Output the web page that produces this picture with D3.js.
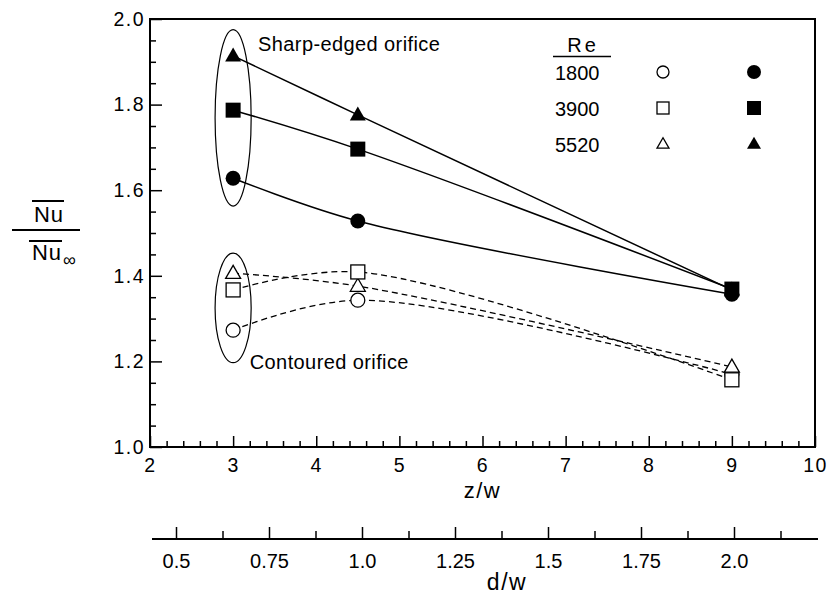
<!DOCTYPE html>
<html>
<head>
<meta charset="utf-8">
<script src="https://cdn.jsdelivr.net/npm/d3@7"></script>
<style>
  body { margin: 0; background: #fff; }
  svg text { font-family: "Liberation Sans", Arial, Helvetica, sans-serif; fill: #000; }
</style>
</head>
<body>
<div id="chart"></div>
<script>
// --- data ---
var zw = [3, 4.5, 9];
var reLabels = ["1800", "3900", "5520"];
var shapes = ["circle", "square", "triangle"];
// sharp-edged orifice (filled symbols), one row per Re
var sharpNu = [
  [1.628, 1.528, 1.357],
  [1.787, 1.696, 1.369],
  [1.914, 1.776, 1.367]
];
// contoured orifice (open symbols)
var contNu = [
  [1.273, 1.343, 1.170],
  [1.367, 1.409, 1.157],
  [1.406, 1.376, 1.187]
];
var zMajor = [2, 3, 4, 5, 6, 7, 8, 9, 10];
var yMajor = [1.0, 1.2, 1.4, 1.6, 1.8, 2.0];
var dwMajor = [0.5, 0.75, 1.0, 1.25, 1.5, 1.75, 2.0];
var dwLabels = ["0.5", "0.75", "1.0", "1.25", "1.5", "1.75", "2.0"];
var dwMinor = [0.625, 0.875, 1.125, 1.375, 1.625, 1.875, 2.125];

var W = 829, H = 596;
var margin = { top: 19, right: 14, bottom: 149, left: 150 };

var svg = d3.select("#chart").append("svg")
  .attr("width", W).attr("height", H);

var x = d3.scaleLinear().domain([2, 10]).range([margin.left, W - margin.right]);
var y = d3.scaleLinear().domain([1, 2]).range([H - margin.bottom, margin.top]);
var dw = d3.scaleLinear().domain([0.5, 2.0]).range([176, 734]);

var zMinor = d3.range(2.2, 10, 0.2).filter(function(v) { return Math.abs(v - Math.round(v)) > 0.01; });
var yMinor = d3.range(1.05, 2, 0.05).filter(function(v) { return Math.abs(v * 5 - Math.round(v * 5)) > 0.01; });

// frame
svg.append("rect")
  .attr("x", x(2)).attr("y", y(2))
  .attr("width", x(10) - x(2)).attr("height", y(1) - y(2))
  .attr("fill", "none").attr("stroke", "#000").attr("stroke-width", 2);

// bottom axis (z/w)
svg.append("g")
  .attr("transform", "translate(0," + y(1) + ")")
  .call(d3.axisBottom(x).tickValues(zMajor).tickSize(-11).tickPadding(11).tickFormat(d3.format("d")));
svg.append("g")
  .attr("transform", "translate(0," + y(1) + ")")
  .call(d3.axisBottom(x).tickValues(zMinor).tickSize(-6).tickFormat(""));

// left axis
svg.append("g")
  .attr("transform", "translate(" + x(2) + ",0)")
  .call(d3.axisLeft(y).tickValues(yMajor).tickSize(-12).tickPadding(5).tickFormat(d3.format(".1f")));
svg.append("g")
  .attr("transform", "translate(" + x(2) + ",0)")
  .call(d3.axisLeft(y).tickValues(yMinor).tickSize(-6).tickFormat(""));

svg.selectAll(".domain").remove();
svg.selectAll(".tick line").attr("stroke-width", 1.5);
svg.selectAll(".tick text").attr("font-size", 19.5).style("letter-spacing", "1.5px");

// second axis (d/w)
var dwG = svg.append("g").attr("transform", "translate(0,539)");
dwG.append("line").attr("x1", 152).attr("x2", 818).attr("stroke", "#000").attr("stroke-width", 2);
dwG.call(function(g) {
  var ax = d3.axisBottom(dw).tickValues(dwMajor).tickSize(-12).tickPadding(15)
    .tickFormat(function(d, i) { return dwLabels[i]; });
  g.append("g").call(ax);
  g.append("g").call(d3.axisBottom(dw).tickValues(dwMinor).tickSize(-8).tickFormat(""));
});
dwG.selectAll(".domain").remove();
dwG.selectAll(".tick line").attr("stroke-width", 1.5);
dwG.selectAll(".tick text").attr("font-size", 20);

// axis titles
svg.append("text").attr("x", x(6)).attr("y", 498).attr("text-anchor", "middle")
  .attr("font-size", 22).style("letter-spacing", "1.5px").text("z/w");
svg.append("text").attr("x", 507).attr("y", 590).attr("text-anchor", "middle")
  .attr("font-size", 23).style("letter-spacing", "1.5px").text("d/w");

// y title as a fraction
var yl = svg.append("g");
yl.append("text").attr("x", 49).attr("y", 222).attr("text-anchor", "middle")
  .attr("font-size", 22).style("letter-spacing", "1px").text("Nu");
yl.append("line").attr("x1", 32).attr("x2", 64).attr("y1", 201).attr("y2", 201).attr("stroke", "#000").attr("stroke-width", 2);
yl.append("line").attr("x1", 12).attr("x2", 80).attr("y1", 230).attr("y2", 230).attr("stroke", "#000").attr("stroke-width", 2.2);
yl.append("text").attr("x", 47).attr("y", 260).attr("text-anchor", "middle")
  .attr("font-size", 22).style("letter-spacing", "1px").text("Nu");
yl.append("line").attr("x1", 29).attr("x2", 62).attr("y1", 241).attr("y2", 241).attr("stroke", "#000").attr("stroke-width", 2);
yl.append("text").attr("x", 63).attr("y", 266).attr("font-size", 18).text("\u221e");

// ellipses grouping the z/w = 3 points
svg.append("ellipse")
  .attr("cx", x(3)).attr("cy", y(1.769))
  .attr("rx", x(3.217) - x(3)).attr("ry", y(1.563) - y(1.769))
  .attr("fill", "none").attr("stroke", "#000").attr("stroke-width", 1.2);
svg.append("ellipse")
  .attr("cx", x(3)).attr("cy", y(1.325))
  .attr("rx", x(3.217) - x(3)).attr("ry", y(1.197) - y(1.325))
  .attr("fill", "none").attr("stroke", "#000").attr("stroke-width", 1.2);

svg.append("text").attr("x", x(3.3)).attr("y", y(1.926)).attr("font-size", 20)
  .style("letter-spacing", "0.4px").text("Sharp-edged orifice");
svg.append("text").attr("x", x(3.2)).attr("y", y(1.182)).attr("font-size", 20)
  .style("letter-spacing", "0.4px").text("Contoured orifice");

// curves
var line = d3.line()
  .x(function(d) { return x(d[0]); })
  .y(function(d) { return y(d[1]); })
  .curve(d3.curveCatmullRom.alpha(0.5));

function pts(vals) { return zw.map(function(z, i) { return [z, vals[i]]; }); }

sharpNu.forEach(function(vals) {
  svg.append("path").attr("d", line(pts(vals)))
    .attr("fill", "none").attr("stroke", "#000").attr("stroke-width", 1.5);
});
contNu.forEach(function(vals) {
  svg.append("path").attr("d", line(pts(vals)))
    .attr("fill", "none").attr("stroke", "#000").attr("stroke-width", 1.3)
    .attr("stroke-dasharray", "6,4");
});

// markers
function marker(g, shape, cx, cy, filled, s) {
  var fill = filled ? "#000" : "#fff";
  var sw = filled ? 0 : 1.3;
  if (shape === "circle") {
    g.append("circle").attr("cx", cx).attr("cy", cy).attr("r", s / 2)
      .attr("fill", fill).attr("stroke", "#000").attr("stroke-width", sw);
  } else if (shape === "square") {
    g.append("rect").attr("x", cx - s / 2).attr("y", cy - s / 2).attr("width", s).attr("height", s)
      .attr("fill", fill).attr("stroke", "#000").attr("stroke-width", sw);
  } else {
    var h = s * 0.87;
    g.append("path")
      .attr("d", "M" + cx + "," + (cy - h * 0.6) + "L" + (cx - s / 2) + "," + (cy + h * 0.4) +
        "L" + (cx + s / 2) + "," + (cy + h * 0.4) + "Z")
      .attr("fill", fill).attr("stroke", "#000").attr("stroke-width", sw);
  }
}

var mg = svg.append("g");
// draw order: circles, triangles, squares
[0, 2, 1].forEach(function(k) {
  contNu[k].forEach(function(v, i) { marker(mg, shapes[k], x(zw[i]), y(v), false, k === 2 ? 15 : 14); });
});
[2, 1, 0].forEach(function(k) {
  sharpNu[k].forEach(function(v, i) { marker(mg, shapes[k], x(zw[i]), y(v), true, k === 2 ? 16 : 15); });
});

// legend
var lg = svg.append("g");
lg.append("text").attr("x", 583).attr("y", 52).attr("text-anchor", "middle")
  .attr("font-size", 20).style("letter-spacing", "3px").text("Re");
lg.append("line").attr("x1", 553).attr("x2", 611).attr("y1", 56.5).attr("y2", 56.5)
  .attr("stroke", "#000").attr("stroke-width", 1.3);
var legY = [72, 108, 144];
reLabels.forEach(function(r, i) {
  lg.append("text").attr("x", 555).attr("y", legY[i] + 8).attr("font-size", 20).text(r);
  marker(lg, shapes[i], 663, legY[i], false, 12);
  marker(lg, shapes[i], 754, legY[i], true, 14);
});
</script>
</body>
</html>
